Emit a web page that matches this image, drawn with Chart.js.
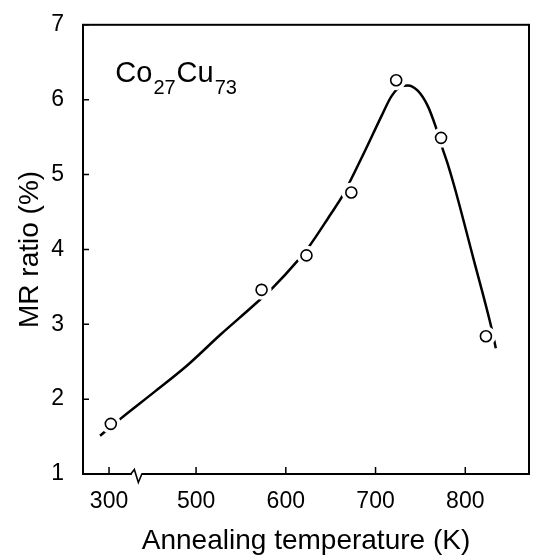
<!DOCTYPE html>
<html><head><meta charset="utf-8">
<script src="https://cdn.jsdelivr.net/npm/chart.js@4/dist/chart.umd.min.js"></script>
<style>html,body{margin:0;padding:0;background:#fff}#wrap{width:539px;height:559px}</style>
</head><body><div id="wrap"><canvas id="c" width="539" height="559"></canvas></div>
<script>
// Measured samples
const sampleTemps = [302, 573, 623, 673, 723, 773, 823];
const mrRatio     = [1.67, 3.46, 3.92, 4.76, 6.26, 5.49, 2.84];
// Hand-drawn guide curve
const fitTemps = [290, 312, 352, 388, 527, 564, 584, 614, 626, 650, 663, 670, 688, 707, 718, 729, 736, 747, 758, 767, 774, 781.5, 789, 809, 829, 834];
const fitMR    = [1.51, 1.73, 2.11, 2.46, 2.86, 3.25, 3.47, 3.86, 4.04, 4.47, 4.71, 4.87, 5.31, 5.79, 6.05, 6.18, 6.19, 6.12, 5.92, 5.64, 5.37, 5.10, 4.79, 3.88, 2.96, 2.68];
const xTickTemps = [300, 500, 600, 700, 800];
const yTickValues = [1, 2, 3, 4, 5, 6, 7];
const compositionMain = ['Co', 'Cu'];
const compositionSub  = ['27', '73'];

// Broken temperature axis: values below the break are shifted right
const BREAK_AT = 450, BREAK_SHIFT = 103, BREAK_MARK = 434;
const toAxis = t => (t < BREAK_AT ? t + BREAK_SHIFT : t);
const tickLabelFor = v => { const i = xTickTemps.findIndex(t => Math.abs(toAxis(t) - v) < 0.5); return i >= 0 ? String(xTickTemps[i]) : ''; };

const FONT = "'Liberation Sans', Arial, Helvetica, sans-serif";

const framePlugin = {
  id: 'frame',
  afterDraw(chart) {
    const {ctx, chartArea: a, scales: {x, y}} = chart;
    ctx.save();
    ctx.strokeStyle = '#000';
    ctx.lineWidth = 2;
    ctx.strokeRect(a.left, a.top, a.right - a.left, a.bottom - a.top);
    // inward tick marks
    ctx.lineWidth = 1.5;
    ctx.beginPath();
    yTickValues.forEach(v => { const py = y.getPixelForValue(v); ctx.moveTo(a.left, py); ctx.lineTo(a.left + 6, py); });
    xTickTemps.forEach(t => { const px = x.getPixelForValue(toAxis(t)); ctx.moveTo(px, a.bottom); ctx.lineTo(px, a.bottom - 7); });
    ctx.stroke();
    // axis break symbol
    const bx = x.getPixelForValue(BREAK_MARK);
    ctx.fillStyle = '#fff';
    ctx.fillRect(bx - 5, a.bottom - 2, 10, 4);
    ctx.lineWidth = 1.6;
    ctx.beginPath();
    ctx.moveTo(bx - 6, a.bottom);
    ctx.lineTo(bx - 2.5, a.bottom - 4.5);
    ctx.lineTo(bx + 1.5, a.bottom + 8.5);
    ctx.lineTo(bx + 5, a.bottom);
    ctx.lineTo(bx + 8, a.bottom);
    ctx.stroke();
    // composition label
    ctx.fillStyle = '#000';
    ctx.textBaseline = 'alphabetic';
    ctx.textAlign = 'left';
    let cx = x.getPixelForValue(410);
    const base = y.getPixelForValue(6.24);
    for (let i = 0; i < compositionMain.length; i++) {
      ctx.font = '29px ' + FONT;
      ctx.fillText(compositionMain[i], cx, base);
      cx += ctx.measureText(compositionMain[i]).width + 1;
      ctx.font = '20px ' + FONT;
      ctx.fillText(compositionSub[i], cx, base + 12);
      cx += ctx.measureText(compositionSub[i]).width + 1;
    }
    ctx.restore();
  }
};

new Chart(document.getElementById('c'), {
  type: 'scatter',
  data: {
    datasets: [
      {
        type: 'line',
        data: fitTemps.map((t, i) => ({x: toAxis(t), y: fitMR[i]})),
        borderColor: '#000', borderWidth: 2.5, pointRadius: 0,
        cubicInterpolationMode: 'monotone', fill: false, order: 3
      },
      {
        data: sampleTemps.map((t, i) => ({x: toAxis(t), y: mrRatio[i]})),
        pointRadius: 10, pointBackgroundColor: '#fff', pointBorderColor: '#fff', pointBorderWidth: 0, order: 2
      },
      {
        data: sampleTemps.map((t, i) => ({x: toAxis(t), y: mrRatio[i]})),
        pointRadius: 5.5, pointBackgroundColor: '#fff', pointBorderColor: '#000', pointBorderWidth: 1.6, order: 1
      }
    ]
  },
  options: {
    responsive: false, animation: false, devicePixelRatio: 1,
    layout: {padding: {left: 0, right: 2, top: 18, bottom: 0}},
    plugins: {legend: {display: false}, tooltip: {enabled: false}},
    scales: {
      x: {
        type: 'linear', min: 374, max: 871,
        afterBuildTicks: s => { s.ticks = xTickTemps.map(t => ({value: toAxis(t)})); },
        afterFit: s => { s.height = 85; },
        grid: {display: false}, border: {display: false},
        ticks: {autoSkip: false, maxRotation: 0, padding: 6, color: '#000', font: {family: FONT, size: 23}, callback: v => tickLabelFor(v)},
        title: {display: true, text: 'Annealing temperature (K)', color: '#000', font: {family: FONT, size: 28}, padding: {top: 0, bottom: 1}}
      },
      y: {
        type: 'linear', min: 1, max: 7,
        afterBuildTicks: s => { s.ticks = yTickValues.map(v => ({value: v})); },
        afterFit: s => { s.width = 83; },
        grid: {display: false}, border: {display: false},
        ticks: {autoSkip: false, padding: 11, color: '#000', font: {family: FONT, size: 23}},
        title: {display: true, text: 'MR ratio (%)', color: '#000', font: {family: FONT, size: 28}, padding: {top: 13, bottom: 0}}
      }
    }
  },
  plugins: [framePlugin]
});
</script>
</body></html>
